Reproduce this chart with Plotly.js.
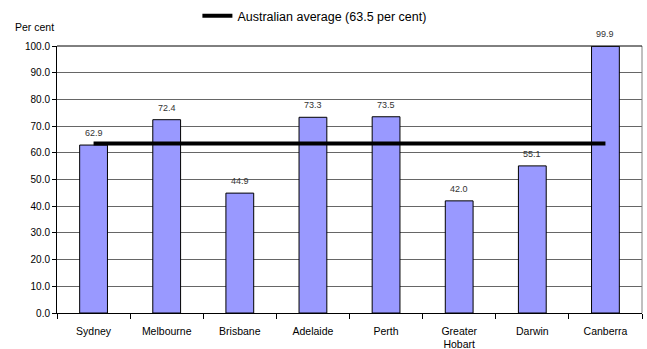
<!DOCTYPE html>
<html>
<head>
<meta charset="utf-8">
<script src="https://cdn.plot.ly/plotly-3.0.1.min.js"></script>
<style>html,body{margin:0;padding:0;background:#fff;}#chart{width:647px;height:349px;}</style>
</head>
<body>
<div id="chart"></div>
<script>
const cities = ["Sydney", "Melbourne", "Brisbane", "Adelaide", "Perth", "Greater<br>Hobart", "Darwin", "Canberra"];
const values = [62.9, 72.4, 44.9, 73.3, 73.5, 42.0, 55.1, 99.9];
const averageValue = 63.5;
const averageName = "Australian average (63.5 per cent)";
const yTickVals = [0, 10, 20, 30, 40, 50, 60, 70, 80, 90, 100];

const font = "Liberation Sans, Arial, sans-serif";

const bars = {
  type: "bar",
  x: cities,
  y: values,
  marker: {color: "#9999FF", line: {color: "#000", width: 1}},
  width: 0.38,
  showlegend: false,
  hoverinfo: "x+y"
};

const avg = {
  type: "scatter",
  mode: "lines",
  x: cities,
  y: cities.map(() => averageValue),
  name: averageName,
  line: {color: "#000", width: 4},
  showlegend: true
};

const labelAnnotations = cities.map((c, i) => ({
  x: c, y: values[i], xref: "x", yref: "y",
  text: values[i].toFixed(1), showarrow: false,
  xanchor: "center", yanchor: "bottom", yshift: 5,
  font: {family: font, size: 9, color: "#333"}
}));

const layout = {
  width: 647, height: 349,
  margin: {l: 57, r: 5, t: 46, b: 36, autoexpand: false},
  paper_bgcolor: "#fff", plot_bgcolor: "#fff",
  font: {family: font, size: 10, color: "#000"},
  showlegend: true,
  legend: {
    orientation: "h", x: 0.24, xanchor: "left", y: 1.112, yanchor: "middle",
    yref: "paper", font: {family: font, size: 12.5, color: "#000"},
    itemwidth: 30, tracegroupgap: 0, bgcolor: "rgba(0,0,0,0)"
  },
  xaxis: {
    type: "category",
    showline: true, linecolor: "#000", linewidth: 1,
    ticks: "outside", tickson: "boundaries", ticklen: 5, tickcolor: "#000",
    ticklabelstandoff: 8,
    showgrid: false, mirror: false,
    tickfont: {family: font, size: 10.5, color: "#000"},
    fixedrange: true
  },
  yaxis: {
    range: [0, 100],
    tickvals: yTickVals,
    ticktext: yTickVals.map(v => v.toFixed(1)),
    showline: true, linecolor: "#000", linewidth: 1,
    ticks: "outside", ticklen: 4, tickcolor: "#000",
    showgrid: true, gridcolor: "#666", gridwidth: 1,
    zeroline: false,
    tickfont: {family: font, size: 10, color: "#000"},
    fixedrange: true
  },
  shapes: [
    {type: "line", xref: "paper", yref: "paper", x0: 1, x1: 1, y0: 0, y1: 1, line: {color: "#808080", width: 1}},
    {type: "line", xref: "paper", yref: "paper", x0: 0, x1: 1, y0: 1, y1: 1, line: {color: "#000", width: 1}}
  ],
  annotations: [
    {text: "Per cent", xref: "paper", yref: "paper", x: -0.075, y: 1.04, xanchor: "left", yanchor: "bottom",
     showarrow: false, font: {family: font, size: 10.5, color: "#000"}}
  ].concat(labelAnnotations)
};

Plotly.newPlot("chart", [bars, avg], layout, {displayModeBar: false, staticPlot: true});
</script>
</body>
</html>
